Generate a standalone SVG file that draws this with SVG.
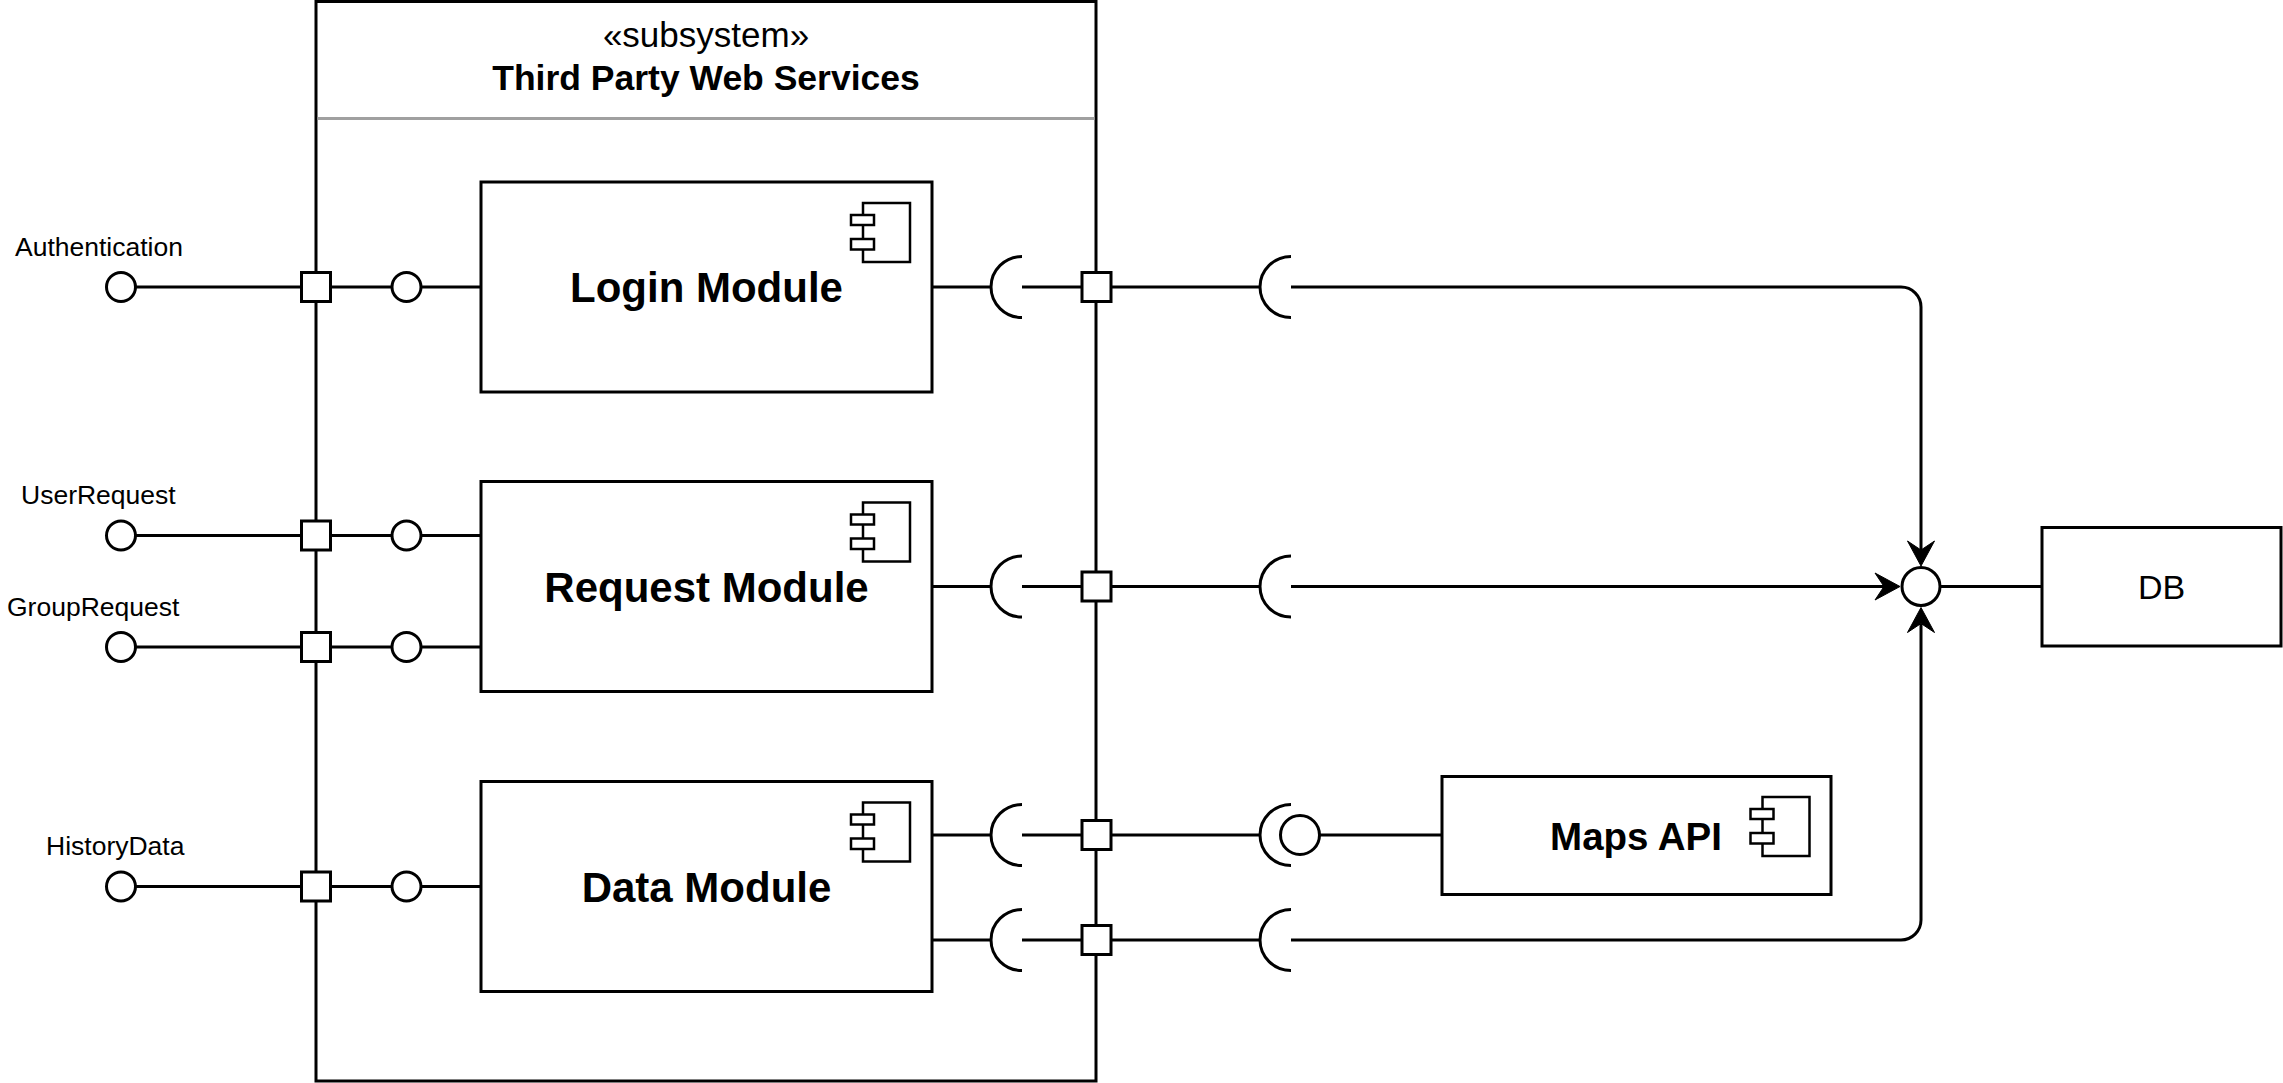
<svg xmlns="http://www.w3.org/2000/svg" xmlns:xlink="http://www.w3.org/1999/xlink" width="2283" height="1083" viewBox="0 0 2283 1083">
<style>
.ln{fill:none;stroke:#000;stroke-width:3}
.box{fill:#fff;stroke:#000;stroke-width:3}
.ic{fill:#fff;stroke:#000;stroke-width:2.5}
.t{font-family:"Liberation Sans",Arial,sans-serif;fill:#000}
.lbl{font-size:26.5px}
.mod{font-size:42px;font-weight:bold;text-anchor:middle}
</style>
<defs>
<g id="cmpIcon">
<rect class="ic" x="0" y="0" width="47" height="59"/>
<rect class="ic" x="-12" y="12" width="23" height="10"/>
<rect class="ic" x="-12" y="36" width="23" height="10.5"/>
</g>
<path id="cup" class="ln" d="M0,-30.5 A31,30.5 0 0 0 0,30.5"/>
<marker id="arr" markerUnits="userSpaceOnUse" markerWidth="30" markerHeight="30" refX="9" refY="15" orient="auto" overflow="visible">
<path d="M0,1.5 L25,15 L0,28.5 L9,15 Z" fill="#000" stroke="#000" stroke-width="1"/>
</marker>
</defs>
<rect width="2283" height="1083" fill="#fff"/>

<g id="subsystem">
<rect class="box" x="316" y="1.5" width="780" height="1079.5"/>
<line x1="317.5" y1="118.5" x2="1094.5" y2="118.5" stroke="#a0a0a0" stroke-width="3"/>
<text class="t" x="706" y="46.5" font-size="35" text-anchor="middle">«subsystem»</text>
<text class="t" x="706" y="89.5" font-size="35.5" font-weight="bold" text-anchor="middle">Third Party Web Services</text>
</g>

<g id="connectors">
<path class="ln" d="M135.5,287 H301.5 M330.5,287 H392 M421,287 H481"/>
<path class="ln" d="M135.5,535.5 H301.5 M330.5,535.5 H392 M421,535.5 H481"/>
<path class="ln" d="M135.5,647 H301.5 M330.5,647 H392 M421,647 H481"/>
<path class="ln" d="M135.5,886.5 H301.5 M330.5,886.5 H392 M421,886.5 H481"/>
<path class="ln" d="M932,287 H991 M1022,287 H1082 M1111,287 H1260"/>
<path class="ln" d="M932,586.5 H991 M1022,586.5 H1082 M1111,586.5 H1260"/>
<path class="ln" d="M932,835 H991 M1022,835 H1082 M1111,835 H1260"/>
<path class="ln" d="M932,940 H991 M1022,940 H1082 M1111,940 H1260"/>
<path class="ln" d="M1291,287 H1901 A20,20 0 0 1 1921,307 V550" marker-end="url(#arr)"/>
<path class="ln" d="M1291,586.5 H1884" marker-end="url(#arr)"/>
<path class="ln" d="M1291,940 H1901 A20,20 0 0 0 1921,920 V623.5" marker-end="url(#arr)"/>
<path class="ln" d="M1319.5,835 H1442"/>
<path class="ln" d="M1940,586.5 H2042"/>
</g>

<g id="if-authentication">
<circle class="box" cx="121" cy="287" r="14.5"/>
<text class="t lbl" x="15" y="255.5">Authentication</text>
</g>
<g id="if-userrequest">
<circle class="box" cx="121" cy="535.5" r="14.5"/>
<text class="t lbl" x="21" y="504">UserRequest</text>
</g>
<g id="if-grouprequest">
<circle class="box" cx="121" cy="647" r="14.5"/>
<text class="t lbl" x="7" y="615.5">GroupRequest</text>
</g>
<g id="if-historydata">
<circle class="box" cx="121" cy="886.5" r="14.5"/>
<text class="t lbl" x="46" y="855">HistoryData</text>
</g>

<g id="ports-left">
<rect class="box" x="301.5" y="272.5" width="29" height="29"/>
<rect class="box" x="301.5" y="521" width="29" height="29"/>
<rect class="box" x="301.5" y="632.5" width="29" height="29"/>
<rect class="box" x="301.5" y="872" width="29" height="29"/>
</g>
<g id="provided-inner">
<circle class="box" cx="406.5" cy="287" r="14.5"/>
<circle class="box" cx="406.5" cy="535.5" r="14.5"/>
<circle class="box" cx="406.5" cy="647" r="14.5"/>
<circle class="box" cx="406.5" cy="886.5" r="14.5"/>
</g>

<g id="login-module">
<rect class="box" x="481" y="182" width="451" height="210"/>
<use xlink:href="#cmpIcon" href="#cmpIcon" x="863" y="203"/>
<text class="t mod" x="706.5" y="302">Login Module</text>
</g>
<g id="request-module">
<rect class="box" x="481" y="481.5" width="451" height="210"/>
<use xlink:href="#cmpIcon" href="#cmpIcon" x="863" y="502.5"/>
<text class="t mod" x="706.5" y="601.5">Request Module</text>
</g>
<g id="data-module">
<rect class="box" x="481" y="781.5" width="451" height="210"/>
<use xlink:href="#cmpIcon" href="#cmpIcon" x="863" y="802.5"/>
<text class="t mod" x="706.5" y="901.5">Data Module</text>
</g>

<g id="required-inner">
<use xlink:href="#cup" href="#cup" x="1022" y="287"/>
<use xlink:href="#cup" href="#cup" x="1022" y="586.5"/>
<use xlink:href="#cup" href="#cup" x="1022" y="835"/>
<use xlink:href="#cup" href="#cup" x="1022" y="940"/>
</g>
<g id="ports-right">
<rect class="box" x="1082" y="272.5" width="29" height="29"/>
<rect class="box" x="1082" y="572" width="29" height="29"/>
<rect class="box" x="1082" y="820.5" width="29" height="29"/>
<rect class="box" x="1082" y="925.5" width="29" height="29"/>
</g>
<g id="required-outer">
<use xlink:href="#cup" href="#cup" x="1291" y="287"/>
<use xlink:href="#cup" href="#cup" x="1291" y="586.5"/>
<use xlink:href="#cup" href="#cup" x="1291" y="835"/>
<use xlink:href="#cup" href="#cup" x="1291" y="940"/>
</g>

<g id="maps-interface">
<circle class="box" cx="1300" cy="835" r="19.5"/>
</g>
<g id="maps-api">
<rect class="box" x="1442" y="776.5" width="389" height="118"/>
<use xlink:href="#cmpIcon" href="#cmpIcon" x="1762.5" y="797"/>
<text class="t" x="1636" y="849.5" font-size="38.5" font-weight="bold" text-anchor="middle">Maps API</text>
</g>

<g id="db-interface">
<circle class="box" cx="1921" cy="586.5" r="19"/>
</g>
<g id="db">
<rect class="box" x="2042" y="527.5" width="239" height="118.5"/>
<text class="t" x="2161.5" y="599" font-size="34" text-anchor="middle">DB</text>
</g>
</svg>
